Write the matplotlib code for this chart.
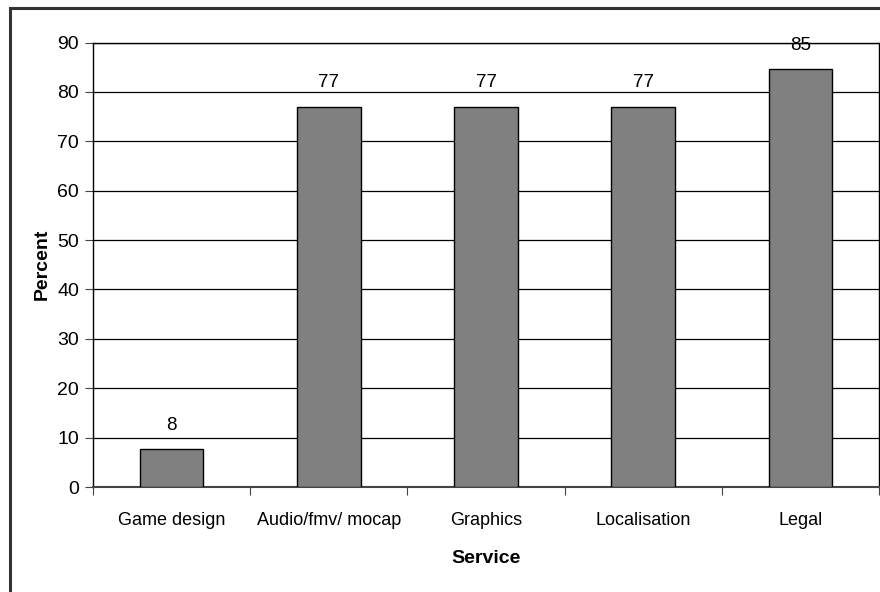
import matplotlib
matplotlib.use("Agg")
import matplotlib.pyplot as plt
from matplotlib.patches import Rectangle

categories = ["Game design", "Audio/fmv/ mocap", "Graphics", "Localisation", "Legal"]
values = [7.7, 77.0, 77.0, 77.0, 84.6]
labels = ["8", "77", "77", "77", "85"]
yticks = [0, 10, 20, 30, 40, 50, 60, 70, 80, 90]

plt.rcParams['font.family'] = ['Liberation Sans', 'DejaVu Sans']

fig = plt.figure(figsize=(8.8, 5.92), dpi=100)
W, H = 880, 592
ax = fig.add_axes([93 / W, 1 - 487 / H, (879 - 93) / W, (487 - 42.5) / H])

x = list(range(len(categories)))
ax.bar(x, values, width=0.405, color="#808080", edgecolor="black", linewidth=1.0, zorder=3)
for xi, v, lab in zip(x, values, labels):
    ax.annotate(lab, (xi, v), xytext=(0, 11), textcoords="offset points",
                ha="center", va="bottom", fontsize=13.5)

ax.set_xlim(-0.5, len(categories) - 0.5)
ax.set_ylim(0, 90)
ax.set_yticks(yticks)
ax.set_yticklabels([str(t) for t in yticks], fontsize=14)
ax.yaxis.grid(True, color="black", linewidth=0.9, zorder=0)
ax.set_axisbelow(True)

ax.set_xticks([i + 0.5 for i in range(-1, len(categories))])
ax.set_xticklabels([])
ax.set_xticks(x, minor=True)
ax.set_xticklabels(categories, minor=True, fontsize=13)
ax.tick_params(axis="x", which="minor", length=0, pad=18)
ax.tick_params(axis="x", which="major", length=6, direction="out", color="#444444")
ax.tick_params(axis="y", length=6, direction="out", color="#444444", pad=4)

for s in ["left", "bottom", "right", "top"]:
    ax.spines[s].set_linewidth(1.0)
    ax.spines[s].set_color("black")
ax.spines["bottom"].set_color("#444444")
ax.spines["bottom"].set_linewidth(1.5)

ax.set_ylabel("Percent", fontsize=14, fontweight="bold", labelpad=5)
ax.set_xlabel("Service", fontsize=14, fontweight="bold", labelpad=15)

# outer chart frame (partly cut off in the reference)
fig.patches.append(Rectangle((9.5 / W, -0.1), 1.2, 1 - 7.5 / H + 0.1, transform=fig.transFigure,
                             fill=False, edgecolor="#333333", linewidth=2.2))

fig.savefig("out.png", dpi=100)
